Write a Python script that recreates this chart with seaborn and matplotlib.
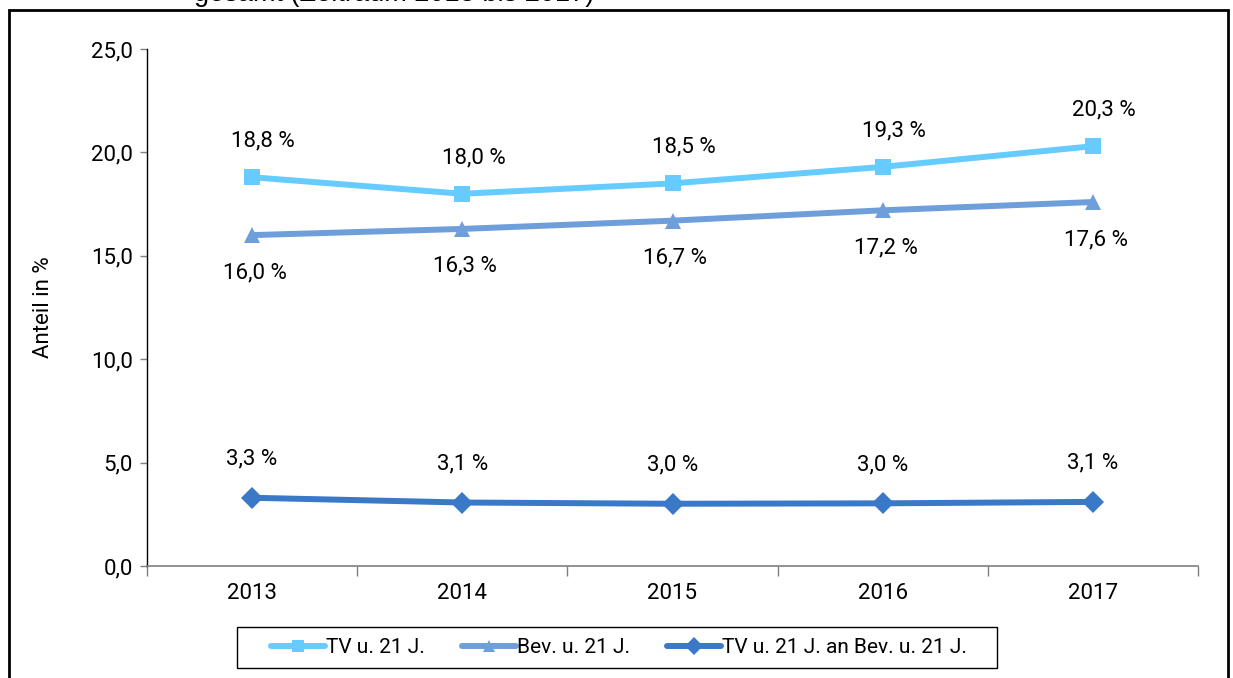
import matplotlib
matplotlib.use('Agg')
import matplotlib.pyplot as plt
import seaborn as sns
import pandas as pd
from matplotlib.ticker import FuncFormatter, FixedLocator
from matplotlib.lines import Line2D
from matplotlib.patches import Rectangle

years = ['2013', '2014', '2015', '2016', '2017']
tv_u21 = [18.8, 18.0, 18.5, 19.3, 20.3]
bev_u21 = [16.0, 16.3, 16.7, 17.2, 17.6]
tv_an_bev = [3.3, 3.1, 3.0, 3.0, 3.1]
series_names = ['TV u. 21 J.', 'Bev. u. 21 J.', 'TV u. 21 J. an Bev. u. 21 J.']
# plotted values for the ratio line (label text is rounded)
tv_an_bev_plot = [3.3, 3.07, 3.01, 3.03, 3.1]

colors = ['#66CCFF', '#6F9FDB', '#3A78C8']
markers = ['s', '^', 'D']
marker_sizes = [11, 11.5, 11]

sns.set_style('white')
plt.rcParams['font.family'] = ['Roboto', 'DejaVu Sans']
plt.rcParams['text.color'] = 'black'
plt.rcParams['axes.labelcolor'] = 'black'
plt.rcParams['xtick.color'] = 'black'
plt.rcParams['ytick.color'] = 'black'

fs = 16

fig = plt.figure(figsize=(12.33, 6.78), dpi=100)
ax = fig.add_axes([147 / 1233, 1 - 566 / 678, 1051 / 1233, 517 / 678])

df = pd.DataFrame({
    'pos': list(range(len(years))) * 3,
    'value': tv_u21 + bev_u21 + tv_an_bev_plot,
    'series': [s for s in series_names for _ in years],
})

for name, col, mk, ms in zip(series_names, colors, markers, marker_sizes):
    sub = df[df['series'] == name]
    sns.lineplot(data=sub, x='pos', y='value', color=col, linewidth=4.3,
                 marker=mk, markersize=ms, markeredgewidth=0, ax=ax, legend=False)

fmt = lambda v: f'{v:.1f}'.replace('.', ',') + ' %'
for i in range(len(years)):
    ax.annotate(fmt(tv_u21[i]), (i, tv_u21[i]), xytext=(8, 26), textcoords='offset points',
                ha='center', va='center', fontsize=fs)
    ax.annotate(fmt(bev_u21[i]), (i, bev_u21[i]), xytext=(2, -27), textcoords='offset points',
                ha='center', va='center', fontsize=fs)
    ax.annotate(fmt(tv_an_bev[i]), (i, tv_an_bev_plot[i]), xytext=(0, 28), textcoords='offset points',
                ha='center', va='center', fontsize=fs)

ax.set_xlim(-0.5, 4.5)
ax.set_ylim(0, 25)
ax.set_yticks([0, 5, 10, 15, 20, 25])
ax.yaxis.set_major_formatter(FuncFormatter(lambda v, p: f'{v:.1f}'.replace('.', ',')))
ax.set_xticks(range(len(years)))
ax.set_xticklabels(years)
ax.xaxis.set_minor_locator(FixedLocator([-0.5, 0.5, 1.5, 2.5, 3.5, 4.5]))
ax.tick_params(axis='x', which='major', length=0, pad=12, labelsize=fs, bottom=False)
ax.tick_params(axis='x', which='minor', length=7, width=1, color='#7f7f7f', direction='out',
               bottom=True)
ax.tick_params(axis='y', which='major', length=5, width=1, color='#7f7f7f', direction='out',
               pad=5, labelsize=fs, left=True)
ax.set_xlabel('')
ax.set_ylabel('Anteil in %', fontsize=fs, labelpad=27)

for s in ['top', 'right']:
    ax.spines[s].set_visible(False)
ax.spines['left'].set_color('black')
ax.spines['bottom'].set_color('#7f7f7f')
ax.spines['left'].set_linewidth(1)
ax.spines['bottom'].set_linewidth(1.2)

handles = [Line2D([0], [0], color=c, lw=4.3, marker=m, markersize=9, markeredgewidth=0,
                  solid_capstyle='round')
           for c, m in zip(colors, markers)]
leg = fig.legend(handles, series_names, loc='center', bbox_to_anchor=(619 / 1233, 1 - 647.5 / 678),
                 ncol=3, frameon=False, fontsize=15,
                 handlelength=2.6, handletextpad=0.05, columnspacing=1.75, borderaxespad=0)

# legend box
fig.patches.append(Rectangle((237 / 1233, 1 - 668 / 678), 760 / 1233, 41 / 678,
                             transform=fig.transFigure, fill=False, edgecolor='black', lw=1))
# frame around the chart area
fig.patches.append(Rectangle((9 / 1233, -0.1), 1219 / 1233, 1.1 - 10 / 678,
                             transform=fig.transFigure, fill=False, edgecolor='black', lw=2))
fig.text(394 / 1233, 1 - 1 / 678, 'gesamt (Zeitraum 2013 bis 2017)', ha='center', va='baseline',
         fontsize=19.5, family=['Liberation Sans', 'DejaVu Sans'])

fig.savefig('out.png', dpi=100)
